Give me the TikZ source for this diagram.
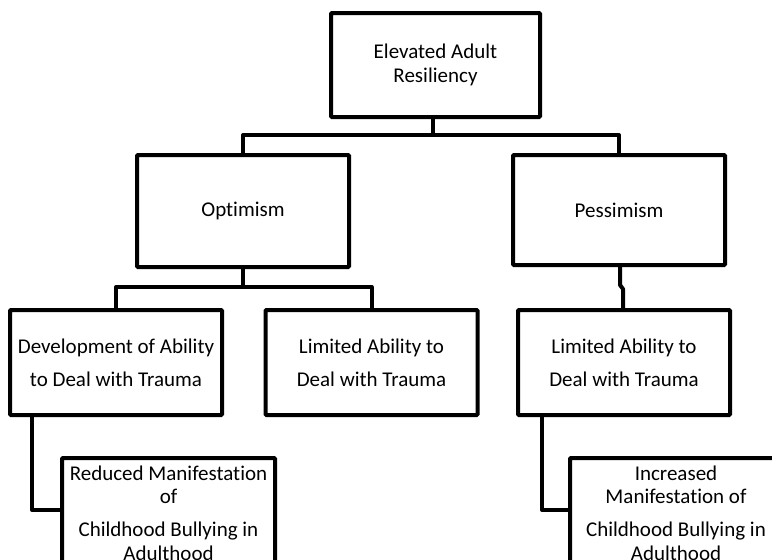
\documentclass[tikz,border=0pt]{standalone}
\usepackage{fontspec}
\setmainfont{Carlito}[Ligatures={NoCommon}]
\begin{document}
\begin{tikzpicture}[x=1pt,y=-1pt,
  box/.style={draw=black, line width=4pt, rectangle, rounded corners=1pt,
    align=center, inner sep=0pt, font=\fontsize{21}{23.5}\selectfont,
    minimum width=212pt},
  link/.style={draw=black, line width=4pt, line join=round}]
\useasboundingbox (0,0) rectangle (772,560);
\clip (0,0) rectangle (772,560);

% boxes
\node[box, minimum width=209pt, minimum height=104pt] (root) at (435.5,65) {Elevated Adult\\Resiliency};
\node[box, minimum height=112pt] (opt) at (243,211) {Optimism};
\node[box, minimum height=110pt] (pes) at (619,210) {Pessimism};
\node[box, minimum height=105pt] (dev) at (116,362.5) {Development of Ability\\[9.5pt]to Deal with Trauma};
\node[box, minimum height=105pt] (limA) at (371.5,362.5) {Limited Ability to\\[9.5pt]Deal with Trauma};
\node[box, minimum height=105pt] (limB) at (624,362.5) {Limited Ability to\\[9.5pt]Deal with Trauma};
\node[box, minimum width=213pt, minimum height=110pt] (red) at (168.5,513) {Reduced Manifestation\\of\\[9.5pt]Childhood Bullying in\\Adulthood};
\node[box, minimum height=110pt] (inc) at (676,513) {Increased\\Manifestation of\\[9.5pt]Childhood Bullying in\\Adulthood};

% root to first level
\coordinate (j1) at (433,135);
\draw[link] (433,0 |- root.south) -- (j1);
\draw[link] (opt.north) |- (j1) -| (pes.north);

% optimism branch
\coordinate (j2) at (243,287);
\draw[link] (opt.south) -- (j2);
\draw[link] (dev.north) |- (j2) -| (limA.north);

% pessimism branch, with its small jog
\coordinate (j3a) at (620,285);
\coordinate (j3b) at (623,289);
\draw[link] (620,0 |- pes.south) -- (j3a) -- (j3b) -- (623,0 |- limB.north);

% outcomes
\draw[link] (32,0 |- dev.south) |- (red.west |- 0,510);
\draw[link] (542,0 |- limB.south) |- (inc.west |- 0,510);
\end{tikzpicture}
\end{document}
